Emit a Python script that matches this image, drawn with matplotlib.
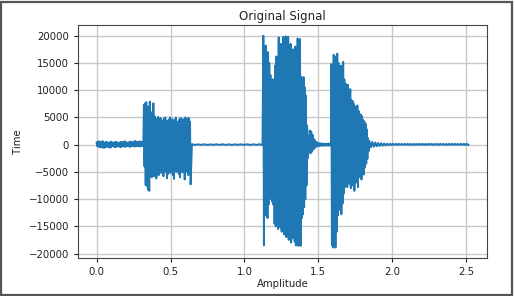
#original signal plotter

from matplotlib import pyplot as plt
from matplotlib.patches import Rectangle
import numpy as np

# each segment: start time, time between peaks, upper peaks, lower peaks
quiet_start, quiet_step = 0.0, 0.008
quiet_hi = [400, 550, 600, 450, 500, 650, 400, 350, 500, 450, 300, 400, 550, 450, 350, 400, 500, 450, 300, 350,
            450, 500, 400, 550, 600, 450, 350, 400, 500, 550, 450, 400, 600, 650, 500, 450, 550, 600, 500, 400]
quiet_lo = [-300, -350, -450, -500, -400, -550, -600, -450, -400, -350, -500, -550, -400, -300, -350, -450, -400, -350, -300, -400,
            -450, -350, -300, -350, -400, -300, -250, -350, -400, -300, -250, -300, -350, -300, -250, -300, -350, -300, -250, -200]

b1_start, b1_step = 0.32, 0.008
b1_hi = [7300, 7600, 7800, 6800, 7000, 7900, 5500, 6000, 7600, 5200, 4800, 4600, 5100, 4300, 4900, 4500, 4200, 4800, 5000, 4400,
         3900, 4600, 5000, 4300, 4700, 4000, 4500, 5000, 4200, 3800, 4600, 4900, 4300, 4700, 4100, 5000, 4400, 4800, 4900, 4200]
b1_lo = [-4000, -7400, -7600, -8300, -8500, -5500, -6000, -4600, -5800, -5000, -6200, -4800, -5600, -4300, -5200, -4900, -5800, -4400, -5000, -6200,
         -5400, -4600, -5200, -4800, -5600, -6300, -4800, -5000, -4400, -5400, -6000, -4700, -5100, -4500, -6400, -5000, -4800, -5600, -4900, -7300]

gap1_start, gap1_step = 0.645, 0.0415
gap1_hi = [80, 60, 70, 50, 60, 70, 60, 50, 60, 70, 60, 80]
gap1_lo = [-60, -50, -60, -40, -50, -60, -50, -40, -50, -60, -50, -70]

b2_start, b2_step = 1.128, 0.008
b2_hi = [20000, 17500, 18200, 16500, 17000, 15000, 12800, 11200, 12000, 11000, 14500, 16200, 15000, 19700, 17500, 18500, 16800, 19800, 17800, 19900,
         18000, 19800, 17000, 18500, 16800, 17500, 16200, 18000, 17200, 19500, 18500, 19400, 12500, 11500, 12400, 10500, 9000, 3500]
b2_lo = [-18500, -13000, -12000, -13500, -11000, -10000, -9500, -10500, -11000, -14500, -15000, -14200, -15500, -14800, -15200, -16000, -15400, -16500, -15800, -17000,
         -16200, -17500, -16800, -18000, -17200, -16500, -17800, -18500, -17000, -18600, -17500, -18600, -13500, -12800, -11500, -10000, -7500, -2500]

gap2_start, gap2_step = 1.432, 0.01
gap2_hi = [1500, 2600, 2400, 1800, 1000, 600, 400, 300, 250, 200, 200, 150, 200, 150, 200, 250]
gap2_lo = [-1200, -1600, -1300, -900, -600, -400, -300, -250, -200, -200, -150, -200, -150, -200, -150, -200]

b3_start, b3_step = 1.588, 0.008
b3_hi = [14800, 14000, 16500, 15800, 16200, 16700, 15000, 13500, 14500, 12800, 15200, 12000, 11200, 10500, 11000, 9500,
         10200, 8200, 8000, 7500, 7000, 6900, 7200, 6200, 5600, 5500, 5200, 4500, 4200, 3800, 2800, 1200]
b3_lo = [-18500, -18900, -17500, -18900, -16000, -13000, -12000, -11500, -12800, -10800, -9000, -7800, -6500, -7800, -6200, -7200,
         -8000, -6800, -7500, -8500, -7000, -6600, -7800, -6000, -5800, -6400, -5400, -5500, -4200, -3500, -2600, -1200]

tail_start, tail_step = 1.845, 0.02
tail_hi = [700, 500, 400, 300, 250, 200, 180, 150, 150, 140, 150, 130, 140, 150, 140, 130, 140,
           150, 140, 130, 150, 140, 130, 140, 150, 140, 130, 140, 150, 140, 130, 150, 140, 150]
tail_lo = [-500, -400, -300, -250, -200, -150, -100, -80, -60, -70, -60, -50, -60, -70, -60, -50, -60,
           -50, -60, -70, -50, -60, -50, -60, -50, -60, -70, -50, -60, -50, -60, -50, -60, -50]

segments = [(quiet_start, quiet_step, quiet_hi, quiet_lo),
            (b1_start, b1_step, b1_hi, b1_lo),
            (gap1_start, gap1_step, gap1_hi, gap1_lo),
            (b2_start, b2_step, b2_hi, b2_lo),
            (gap2_start, gap2_step, gap2_hi, gap2_lo),
            (b3_start, b3_step, b3_hi, b3_lo),
            (tail_start, tail_step, tail_hi, tail_lo)]

t = []
sig = []
for start, step, hi, lo in segments:
    for k in range(len(hi)):
        t.append(start + k*step)
        sig.append(hi[k])
        t.append(start + k*step + step/2)
        sig.append(lo[k])

fig = plt.figure(figsize=(5.15, 2.96), dpi=100)
ax = fig.add_axes([0.1515, 0.128, 0.794, 0.787])
ax.plot(t, sig, color='#1f77b4', linewidth=1.4)
ax.set_yticks(range(-20000, 20001, 5000))
ax.grid(True, color='#c8c8c8', linewidth=1.0)
ax.set_axisbelow(True)
ax.tick_params(labelsize=7.3, colors='#222222', length=3)
for s in ax.spines.values():
    s.set_color('#444444')
ax.set_title('Original Signal', fontsize=8.5, color='#222222', pad=4)
ax.set_xlabel('Amplitude', fontsize=7.3, color='#222222', labelpad=1)
ax.set_ylabel('Time', fontsize=7.3, color='#222222', labelpad=4)

# dark frame round the whole picture
fig.patches.append(Rectangle((0.002, 0.004), 0.993, 0.99, transform=fig.transFigure,
                             fill=False, edgecolor='#555555', linewidth=1.6))

fig.savefig('out.png', dpi=100)
